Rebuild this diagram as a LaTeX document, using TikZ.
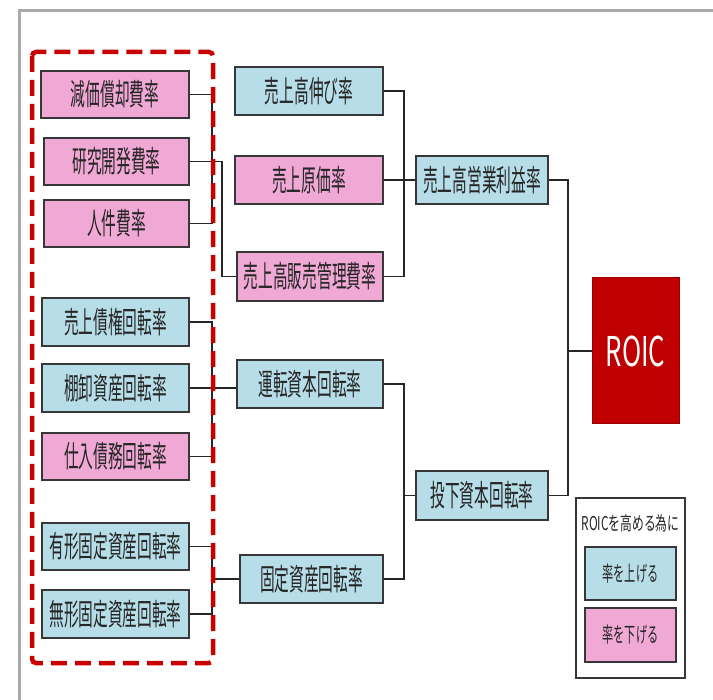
\documentclass[tikz,border=0pt]{standalone}
\usepackage{fontspec}
\setmainfont{Noto Sans CJK JP}
\newfontfamily\jp[FakeStretch=0.49]{Noto Sans CJK JP}
\newfontfamily\jpleg[FakeStretch=0.53]{Noto Sans CJK JP}
\newfontfamily\jpwide[FakeStretch=0.62]{Noto Sans CJK JP}
\newfontfamily\roicfont[FakeStretch=0.63]{Noto Sans CJK JP}
\usetikzlibrary{calc}
\definecolor{boxblue}{RGB}{183,222,232}
\definecolor{boxpink}{RGB}{240,168,212}
\definecolor{roicred}{RGB}{192,0,0}
\definecolor{dashred}{RGB}{200,0,0}
\definecolor{framegray}{RGB}{170,170,170}
\definecolor{edge}{RGB}{55,55,55}
\tikzset{
  box/.style={draw=edge, line width=1.4pt, inner sep=0pt, text=black!85,
    font=\jp\fontsize{30}{30}\selectfont},
  up/.style={box, fill=boxblue},
  down/.style={box, fill=boxpink},
  conn/.style={draw=black!85, line width=1.3pt},
}
\begin{document}
\begin{tikzpicture}[x=1pt,y=-1pt]
\useasboundingbox (0,0) rectangle (713,700);
\fill[white] (0,0) rectangle (713,700);
% outer gray frame
\draw[framegray, line width=3pt] (19,700) -- (19,11) -- (713,11);

% left column
\node[down, minimum width=148pt, minimum height=47pt] (L1) at (115,94.5) {減価償却費率};
\node[down, minimum width=145pt, minimum height=47pt] (L2) at (116.5,161.5) {研究開発費率};
\node[down, minimum width=145pt, minimum height=47pt] (L3) at (116.5,223.5) {人件費率};
\node[up, minimum width=147pt, minimum height=48pt] (L4) at (115.5,322) {売上債権回転率};
\node[up, minimum width=147pt, minimum height=48pt] (L5) at (115.5,388) {棚卸資産回転率};
\node[down, minimum width=147pt, minimum height=47pt] (L6) at (115.5,456.5) {仕入債務回転率};
\node[up, minimum width=147pt, minimum height=47pt] (L7) at (115.5,546.5) {有形固定資産回転率};
\node[up, minimum width=147pt, minimum height=48pt] (L8) at (115.5,614) {無形固定資産回転率};

% middle column
\node[up, minimum width=148pt, minimum height=48pt] (M1) at (309,91) {売上高伸び率};
\node[down, minimum width=148pt, minimum height=48pt] (M2) at (309,180) {売上原価率};
\node[down, minimum width=146pt, minimum height=49pt] (M3) at (310,276.5) {売上高販売管理費率};
\node[up, minimum width=146pt, minimum height=48pt] (M4) at (310,384) {運転資本回転率};
\node[up, minimum width=143pt, minimum height=48pt] (M5) at (311.5,579) {固定資産回転率};

% right column
\node[up, minimum width=132pt, minimum height=48pt] (R1) at (482,180) {売上高営業利益率};
\node[up, minimum width=132pt, minimum height=49pt] (R2) at (482,495.5) {投下資本回転率};
\node[draw=roicred!80!black, line width=1pt, fill=roicred, text=white, inner sep=0pt,
      minimum width=87pt, minimum height=146pt, font=\roicfont\fontsize{41}{41}\selectfont]
      (ROIC) at (635.5,351) {ROIC};

% bus coordinates
\coordinate (bL) at (212,0);
\coordinate (bL2) at (222,0);
\coordinate (bM) at (404,0);
\coordinate (bR) at (568,0);

% connectors: left -> middle
\draw[conn] (L1.east) -- (L1.east -| bL) |- (L3.east);
\draw[conn] (L2.east) -- (L2.east -| bL2) |- (M3.west);
\draw[conn] (L4.east) -- (L4.east -| bL) |- (L6.east);
\draw[conn] (L5.east) -- (L5.east -| M4.west);
\draw[conn] (L7.east) -- (L7.east -| bL) |- (L8.east);
\draw[conn] (M5.west) -- (M5.west -| bL);

% connectors: middle -> right
\draw[conn] (M1.east) -- (M1.east -| bM) |- (M3.east);
\draw[conn] (M2.east) -- (R1.west);
\draw[conn] (M4.east) -- (M4.east -| bM) |- (M5.east);
\draw[conn] (R2.west) -- (R2.west -| bM);

% connectors: right -> ROIC
\draw[conn] (R1.east) -- (R1.east -| bR) |- (R2.east);
\draw[conn] (ROIC.west) -- (ROIC.west -| bR);

% red dashed group frame
\draw[dashred, line width=4.5pt, rounded corners=4pt, dash pattern=on 16pt off 8pt]
  (32,52) rectangle (213,663);

% legend
\node[draw=edge, line width=1.3pt, minimum width=109pt, minimum height=180pt, inner sep=0pt]
  (LG) at (630.5,588) {};
\node[font=\jpwide\fontsize{19}{19}\selectfont, text=black!85] (LGT) at (630.5,523) {ROICを高める為に};
\node[up, minimum width=91pt, minimum height=53pt, font=\jpleg\fontsize{21}{21}\selectfont] (LU) at (630.5,573.5) {率を上げる};
\node[down, minimum width=91pt, minimum height=54pt, font=\jpleg\fontsize{21}{21}\selectfont] (LD) at (630.5,635) {率を下げる};
\end{tikzpicture}
\end{document}
